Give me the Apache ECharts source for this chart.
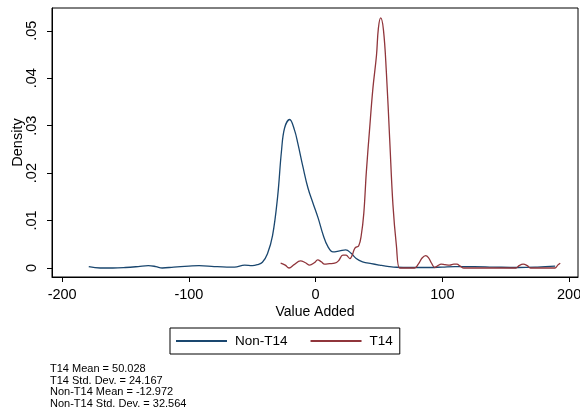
<!DOCTYPE html>
<html>
<head>
<meta charset="utf-8">
<script src="https://cdn.jsdelivr.net/npm/echarts@6/dist/echarts.min.js"></script>
<style>
  html, body { margin: 0; padding: 0; background: #fff; }
  #chart { width: 580px; height: 418px; }
</style>
</head>
<body>
<div id="chart"></div>
<script>
const xTicks = [-200, -100, 0, 100, 200]
const yTicks = [0, 0.01, 0.02, 0.03, 0.04, 0.05]
const yTickLabels = ['0', '.01', '.02', '.03', '.04', '.05']
const seriesNames = ['Non-T14', 'T14']

// kernel density, Non-T14 group: [value added, density]
const nonT14 = [
  [-179, 0.0003], [-170, 0.0], [-160, 0.0], [-150, 0.0001], [-140, 0.0003],
  [-132, 0.0005], [-126, 0.0003], [-121, 0.0], [-112, 0.0002], [-100, 0.0004],
  [-92, 0.0005], [-80, 0.0003], [-70, 0.0002], [-64, 0.0002], [-56, 0.0006],
  [-50, 0.0005], [-46, 0.0007], [-42, 0.0012], [-38, 0.003], [-34, 0.0068],
  [-30, 0.015], [-27, 0.0245], [-24.5, 0.0295], [-20.5, 0.0313], [-16.6, 0.029],
  [-14, 0.0262], [-10, 0.0213], [-6, 0.0168], [-2, 0.0136], [2, 0.0105],
  [6, 0.0069], [9.7, 0.0045], [13.7, 0.0034], [19, 0.0036], [23.7, 0.0038],
  [28, 0.0031], [32, 0.002], [37, 0.0013], [44, 0.0009], [50.5, 0.0006],
  [58, 0.0003], [64, 0.00015], [75, 0.0001], [90, 0.0001], [100, 0.0002],
  [110, 0.0003], [125, 0.0003], [140, 0.0002], [160, 0.0001], [175, 0.0002],
  [189, 0.0004]
]

// kernel density, T14 group
const t14 = [
  [-27.6, 0.001], [-24, 0.0006], [-21, 0.0], [-17, 0.0007], [-12, 0.0015],
  [-8, 0.0011], [-4.7, 0.0006], [-1, 0.0011], [1.6, 0.0017], [4.5, 0.0013],
  [7, 0.0008], [11, 0.0009], [15, 0.001], [18, 0.0015], [21.5, 0.0027],
  [24, 0.0027], [27, 0.002], [29, 0.0028], [31, 0.0042], [34, 0.0047],
  [36, 0.0069], [38, 0.0115], [40, 0.0202], [42.5, 0.029], [45.2, 0.0379],
  [48, 0.0448], [49.5, 0.0505], [51.3, 0.0527], [53.5, 0.0502], [55.8, 0.0413],
  [58.4, 0.0273], [61, 0.0133], [63.7, 0.0048], [66.3, 0.0], [70, 0.0],
  [78, 0.0], [81, 0.0008], [84, 0.0021], [86.8, 0.0026], [89, 0.0022],
  [91.5, 0.001], [94, 0.0001], [96.5, 0.0005], [99, 0.0008], [102, 0.0007],
  [105.8, 0.0006], [109, 0.0008], [111.5, 0.0008], [114, 0.0004], [117, 0.0],
  [130, 0.0], [150, 0.0], [158, 0.0], [160.5, 0.0005], [163.7, 0.0008],
  [167, 0.0005], [169.5, 0.0], [180, 0.0], [189, 0.0], [191, 0.0006],
  [193, 0.001]
]

const notes = [
  'T14 Mean = 50.028',
  'T14 Std. Dev. = 24.167',
  'Non-T14 Mean = -12.972',
  'Non-T14 Std. Dev. = 32.564'
]

const FONT = 'Liberation Sans, Arial, Helvetica, sans-serif'
const BLUE = '#1a476f'
const RED = '#90353b'

const chart = echarts.init(document.getElementById('chart'))

chart.setOption({
  animation: false,
  backgroundColor: '#fff',
  textStyle: { fontFamily: FONT, color: '#000' },
  grid: {
    left: 52,
    right: 2,
    top: 8,
    bottom: 141,
    outerBoundsMode: 'none',
    containLabel: false,
    show: true,
    borderColor: '#000',
    borderWidth: 1
  },
  xAxis: {
    type: 'value',
    min: -208,
    max: 207,
    name: 'Value Added',
    nameLocation: 'middle',
    nameGap: 28,
    nameMoveOverlap: false,
    nameTextStyle: { fontSize: 14, color: '#000', fontFamily: FONT },
    splitLine: { show: false },
    axisLine: { show: true, onZero: false, lineStyle: { color: '#000', width: 1 } },
    axisTick: { customValues: xTicks, length: 5, lineStyle: { color: '#000' } },
    axisLabel: {
      customValues: xTicks,
      margin: 10,
      fontSize: 14.5,
      color: '#000',
      fontFamily: FONT
    }
  },
  yAxis: {
    type: 'value',
    min: -0.0019,
    max: 0.0548,
    name: 'Density',
    nameLocation: 'middle',
    nameGap: 27,
    nameMoveOverlap: false,
    nameTextStyle: { fontSize: 14.5, color: '#000', fontFamily: FONT },
    splitLine: { show: false },
    axisLine: { show: true, onZero: false, lineStyle: { color: '#000', width: 1 } },
    axisTick: { customValues: yTicks, length: 5, lineStyle: { color: '#000' } },
    axisLabel: {
      customValues: yTicks,
      rotate: 90,
      margin: 13,
      fontSize: 14.5,
      color: '#000',
      fontFamily: FONT,
      formatter: v => yTickLabels[Math.round(v * 100)]
    }
  },
  legend: {
    data: seriesNames,
    left: 170,
    top: 328,
    orient: 'horizontal',
    icon: 'rect',
    itemWidth: 51,
    itemHeight: 2,
    itemGap: 23,
    padding: [6, 7, 6, 6],
    borderColor: '#000',
    borderWidth: 1,
    textStyle: { fontSize: 13.5, color: '#000', fontFamily: FONT, padding: [0, 0, 0, 3] }
  },
  graphic: [
    {
      type: 'text',
      left: 50,
      top: 363,
      style: {
        text: notes.join('\n'),
        font: '11px ' + FONT,
        lineHeight: 11.7,
        fill: '#000'
      }
    }
  ],
  series: [
    {
      name: seriesNames[0],
      type: 'line',
      data: nonT14,
      symbol: 'none',
      smooth: 0.4,
      color: BLUE,
      lineStyle: { color: BLUE, width: 1.3 }
    },
    {
      name: seriesNames[1],
      type: 'line',
      data: t14,
      symbol: 'none',
      smooth: 0.4,
      color: RED,
      lineStyle: { color: RED, width: 1.3 }
    }
  ]
})
</script>
</body>
</html>
